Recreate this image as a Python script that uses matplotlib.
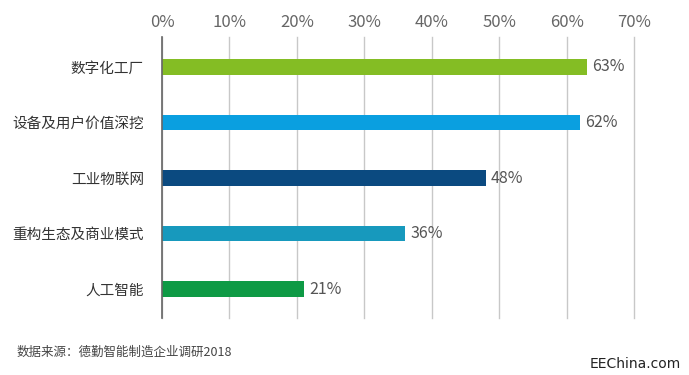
import matplotlib
matplotlib.use('Agg')
import matplotlib.pyplot as plt
from matplotlib.ticker import MultipleLocator, PercentFormatter

plt.rcParams['font.family'] = ['Noto Sans CJK SC', 'DejaVu Sans']

# data
categories = ['数字化工厂', '设备及用户价值深挖', '工业物联网', '重构生态及商业模式', '人工智能']
values = [63, 62, 48, 36, 21]
bar_colors = ['#84BD24', '#0A9FE0', '#0B4A80', '#1799BD', '#0E9A45']
source_note = '数据来源：德勤智能制造企业调研2018'
watermark = 'EEChina.com'

fig = plt.figure(figsize=(6.89, 3.75), dpi=100)
ax = fig.add_axes([0.2351, 0.152, 0.6851, 0.7493])

pos = list(range(len(categories)))
ax.barh(pos, values, height=0.28, color=bar_colors, zorder=3)

for p, v in zip(pos, values):
    ax.text(v + 0.8, p, '%d%%' % v, va='center', ha='left', fontsize=11.5, color='#555555')

ax.set_xlim(0, 70)
ax.set_ylim(4.52, -0.54)
ax.xaxis.set_major_locator(MultipleLocator(10))
ax.xaxis.set_major_formatter(PercentFormatter(decimals=0))
ax.xaxis.tick_top()
ax.tick_params(axis='x', length=0, pad=4, labelsize=12, labelcolor='#666666')
ax.set_yticks(pos)
ax.set_yticklabels(categories)
ax.tick_params(axis='y', length=0, pad=13, labelsize=10.5, labelcolor='#333333')

ax.grid(axis='x', color='#c8c8c8', linewidth=1.0, zorder=0)
for g in ax.get_xgridlines():
    g.set_clip_on(False)
for s in ['top', 'right', 'bottom']:
    ax.spines[s].set_visible(False)
ax.spines['left'].set_color('#666666')
ax.spines['left'].set_linewidth(1.2)
ax.spines['left'].set_zorder(4)

fig.text(17 / 689, 1 - 352 / 375, source_note, fontsize=9, color='#444444', va='center', ha='left')
fig.text(681 / 689, 1 - 364 / 375, watermark, fontsize=10, color='#222222', va='center', ha='right',
         family=['Liberation Sans Narrow', 'DejaVu Sans'])

fig.savefig('out.png', dpi=100)
